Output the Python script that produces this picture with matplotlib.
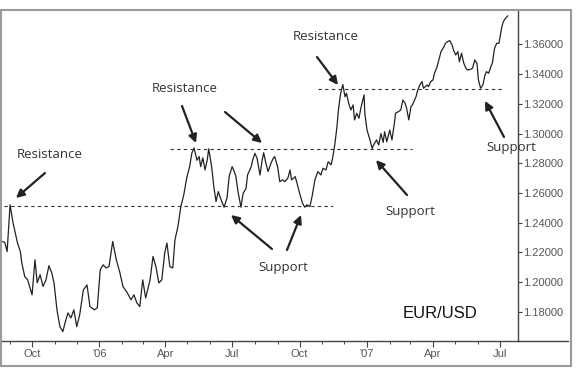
import pandas as pd
import matplotlib
matplotlib.use("Agg")
import matplotlib.pyplot as plt
import matplotlib.dates as mdates
from matplotlib.patches import Rectangle
from matplotlib.lines import Line2D

# EUR/USD price path
dates = [
    "2005-08-22", "2005-08-25", "2005-08-28", "2005-09-01", "2005-09-05", "2005-09-11", "2005-09-15", "2005-09-17", "2005-09-21", "2005-09-25",
    "2005-10-01", "2005-10-05", "2005-10-08", "2005-10-12", "2005-10-16", "2005-10-20", "2005-10-24", "2005-10-28", "2005-10-31",
    "2005-11-04", "2005-11-08", "2005-11-12", "2005-11-15", "2005-11-19", "2005-11-23", "2005-11-27",
    "2005-12-01", "2005-12-05", "2005-12-10", "2005-12-15", "2005-12-19", "2005-12-25", "2005-12-29",
    "2006-01-02", "2006-01-06", "2006-01-10", "2006-01-14", "2006-01-19", "2006-01-24", "2006-01-29",
    "2006-02-02", "2006-02-08", "2006-02-13", "2006-02-17", "2006-02-21", "2006-02-25",
    "2006-03-01", "2006-03-05", "2006-03-11", "2006-03-15", "2006-03-19", "2006-03-23", "2006-03-27", "2006-03-31",
    "2006-04-03", "2006-04-07", "2006-04-11", "2006-04-14", "2006-04-18", "2006-04-22", "2006-04-26", "2006-04-30",
    "2006-05-04", "2006-05-07", "2006-05-10", "2006-05-14", "2006-05-17", "2006-05-19", "2006-05-22", "2006-05-25", "2006-05-28", "2006-05-30",
    "2006-06-03", "2006-06-06", "2006-06-09", "2006-06-12", "2006-06-16", "2006-06-20", "2006-06-24", "2006-06-27",
    "2006-07-01", "2006-07-03", "2006-07-06", "2006-07-09", "2006-07-13", "2006-07-16", "2006-07-20", "2006-07-22", "2006-07-27", "2006-07-29",
    "2006-08-01", "2006-08-04", "2006-08-08", "2006-08-11", "2006-08-13", "2006-08-16", "2006-08-19", "2006-08-23", "2006-08-26", "2006-08-28",
    "2006-09-01", "2006-09-04", "2006-09-08", "2006-09-11", "2006-09-15", "2006-09-18", "2006-09-20", "2006-09-25", "2006-09-27",
    "2006-10-01", "2006-10-05", "2006-10-08", "2006-10-11", "2006-10-15", "2006-10-18", "2006-10-22", "2006-10-26", "2006-10-30",
    "2006-11-02", "2006-11-06", "2006-11-09", "2006-11-13", "2006-11-15", "2006-11-18", "2006-11-21", "2006-11-23", "2006-11-26", "2006-11-29",
    "2006-12-02", "2006-12-04", "2006-12-07", "2006-12-10", "2006-12-13", "2006-12-15", "2006-12-18", "2006-12-21", "2006-12-24", "2006-12-28", "2006-12-29",
    "2007-01-01", "2007-01-05", "2007-01-08", "2007-01-10", "2007-01-14", "2007-01-17", "2007-01-20", "2007-01-23", "2007-01-25", "2007-01-28",
    "2007-02-01", "2007-02-04", "2007-02-07", "2007-02-09", "2007-02-13", "2007-02-16", "2007-02-19", "2007-02-22", "2007-02-24", "2007-02-27",
    "2007-03-02", "2007-03-04", "2007-03-09", "2007-03-11", "2007-03-14", "2007-03-17", "2007-03-19", "2007-03-24", "2007-03-26", "2007-03-29",
    "2007-04-01", "2007-04-03", "2007-04-06", "2007-04-09", "2007-04-12", "2007-04-16", "2007-04-18", "2007-04-21", "2007-04-24", "2007-04-27", "2007-04-29",
    "2007-05-02", "2007-05-05", "2007-05-07", "2007-05-10", "2007-05-13", "2007-05-16", "2007-05-18", "2007-05-22", "2007-05-25", "2007-05-28", "2007-05-31",
    "2007-06-02", "2007-06-05", "2007-06-08", "2007-06-11", "2007-06-13", "2007-06-16", "2007-06-19", "2007-06-21", "2007-06-24", "2007-06-27", "2007-06-30",
    "2007-07-02", "2007-07-04", "2007-07-06", "2007-07-09", "2007-07-12",
]
eurusd = [
    1.2273, 1.2265, 1.2205, 1.2520, 1.2400, 1.2266, 1.2205, 1.2129, 1.2037, 1.2015,
    1.1914, 1.2150, 1.1995, 1.2049, 1.1970, 1.2015, 1.2110, 1.2060, 1.1993,
    1.1813, 1.1700, 1.1666, 1.1725, 1.1792, 1.1758, 1.1813,
    1.1700, 1.1779, 1.1947, 1.1980, 1.1835, 1.1813, 1.1826,
    1.2082, 1.2116, 1.2095, 1.2104, 1.2273, 1.2150, 1.2060,
    1.1970, 1.1927, 1.1880, 1.1914, 1.1860, 1.1835,
    1.2015, 1.1893, 1.2015, 1.2172, 1.2104, 1.1994, 1.2015, 1.2196,
    1.2263, 1.2104, 1.2095, 1.2285, 1.2373, 1.2508, 1.2587, 1.2701,
    1.2777, 1.2868, 1.2903, 1.2820, 1.2845, 1.2777, 1.2836, 1.2755, 1.2822, 1.2897,
    1.2777, 1.2643, 1.2542, 1.2609, 1.2553, 1.2504, 1.2566, 1.2714,
    1.2777, 1.2755, 1.2714, 1.2609, 1.2504, 1.2598, 1.2631, 1.2721, 1.2777, 1.2822,
    1.2867, 1.2833, 1.2721, 1.2822, 1.2871, 1.2800, 1.2744, 1.2800, 1.2833, 1.2845,
    1.2777, 1.2676, 1.2688, 1.2676, 1.2700, 1.2755, 1.2688, 1.2710, 1.2676,
    1.2598, 1.2531, 1.2504, 1.2520, 1.2508, 1.2575, 1.2690, 1.2744, 1.2721,
    1.2766, 1.2755, 1.2810, 1.2789, 1.2833, 1.2923, 1.3046, 1.3159, 1.3271, 1.3330,
    1.3248, 1.3271, 1.3204, 1.3159, 1.3193, 1.3092, 1.3137, 1.3103, 1.3181, 1.3260, 1.3137,
    1.3024, 1.2957, 1.2900, 1.2923, 1.2957, 1.2923, 1.3000, 1.2940, 1.3012, 1.2945,
    1.3024, 1.2957, 1.3058, 1.3137, 1.3148, 1.3159, 1.3226, 1.3204, 1.3170, 1.3092,
    1.3181, 1.3193, 1.3250, 1.3290, 1.3327, 1.3350, 1.3305, 1.3327, 1.3316, 1.3350,
    1.3361, 1.3406, 1.3440, 1.3496, 1.3552, 1.3585, 1.3608, 1.3619, 1.3626, 1.3597, 1.3563,
    1.3529, 1.3552, 1.3484, 1.3541, 1.3474, 1.3440, 1.3428, 1.3432, 1.3440, 1.3496, 1.3474,
    1.3361, 1.3305, 1.3327, 1.3394, 1.3417, 1.3406, 1.3451, 1.3474, 1.3574, 1.3608, 1.3608,
    1.3664, 1.3720, 1.3754, 1.3776, 1.3792,
]

# support / resistance levels (dashed)
level_price = [1.2512, 1.2896, 1.3300]
level_start = ["2005-08-24", "2006-04-07", "2006-10-26"]
level_end = ["2006-11-15", "2007-03-03", "2007-07-05"]

y_ticks = [1.18, 1.20, 1.22, 1.24, 1.26, 1.28, 1.30, 1.32, 1.34, 1.36]

# labels: text, centre (image px), arrows as (tail, head) in image px
labels = [
    ("Resistance", (50, 154), [((45, 173), (16, 198))]),
    ("Resistance", (185, 88), [((182, 106), (196, 143)), ((225, 112), (262, 143))]),
    ("Resistance", (326, 36), [((317, 57), (338, 85))]),
    ("Support", (283, 267), [((272, 249), (231, 215)), ((287, 250), (301, 215))]),
    ("Support", (410, 212), [((407, 195), (376, 160))]),
    ("Support", (511, 148), [((504, 137), (485, 101))]),
]

W, H = 577, 378


def px(p):
    # image pixel (top-left origin) -> figure fraction
    return (p[0] / W, 1 - p[1] / H)


x = pd.to_datetime(dates)

fig = plt.figure(figsize=(W / 100, H / 100), dpi=100)
ax = fig.add_axes([2 / W, 1 - 341 / H, 516 / W, 331 / H])

ax.plot(x, eurusd, color="#222222", lw=0.9)

for lv, s, e in zip(level_price, level_start, level_end):
    ax.hlines(lv, pd.Timestamp(s), pd.Timestamp(e), colors="#333333",
              linestyles=(0, (3, 3)), lw=0.8)

ax.set_xlim(pd.Timestamp("2005-08-21"), pd.Timestamp("2007-07-26"))
ax.set_ylim(1.1603, 1.3832)

ax.xaxis.set_major_locator(mdates.MonthLocator(bymonth=[1, 4, 7, 10]))
ax.xaxis.set_minor_locator(mdates.MonthLocator())
ax.xaxis.set_major_formatter(plt.FuncFormatter(
    lambda v, pos: ("'" + mdates.num2date(v).strftime("%y")) if mdates.num2date(v).month == 1
    else mdates.num2date(v).strftime("%b")))

ax.yaxis.tick_right()
ax.set_yticks(y_ticks)
ax.set_yticklabels([f"{t:.5f}" for t in y_ticks])

for sp in ["left", "top"]:
    ax.spines[sp].set_visible(False)
for sp in ["right", "bottom"]:
    ax.spines[sp].set_color("#444444")
    ax.spines[sp].set_linewidth(1.0)

ax.tick_params(axis="x", which="major", length=4, width=0.8, color="#444444",
               labelsize=8, labelcolor="#555555", pad=2)
ax.tick_params(axis="x", which="minor", length=2, width=0.7, color="#444444")
ax.tick_params(axis="y", length=3, width=0.8, color="#444444",
               labelsize=8, labelcolor="#555555", pad=1)
for lab in ax.get_xticklabels() + ax.get_yticklabels():
    lab.set_family("Liberation Sans")

# outer frame and the bottom axis line running past the price scale
fig.patches.append(Rectangle((1 / W, 1 - 366 / H), 570 / W, 356 / H,
                             transform=fig.transFigure, fill=False,
                             ec="#9a9a9a", lw=1.5))
fig.add_artist(Line2D([518 / W, 568 / W], [1 - 341 / H] * 2,
                      color="#444444", lw=1.0))

for text, pos, arrows in labels:
    fig.text(*px(pos), text, ha="center", va="center", fontsize=9.5,
             family="Open Sans", color="#333333")
    for tail, head in arrows:
        fig.add_artist(matplotlib.patches.FancyArrowPatch(
            px(tail), px(head), transform=fig.transFigure,
            arrowstyle="-|>", mutation_scale=12, lw=1.6,
            color="#222222", shrinkA=0, shrinkB=0))

fig.text(*px((440, 313)), "EUR/USD", ha="center", va="center",
         fontsize=12, family="Liberation Sans", color="#111111")

fig.savefig("out.png", dpi=100, facecolor="white")
